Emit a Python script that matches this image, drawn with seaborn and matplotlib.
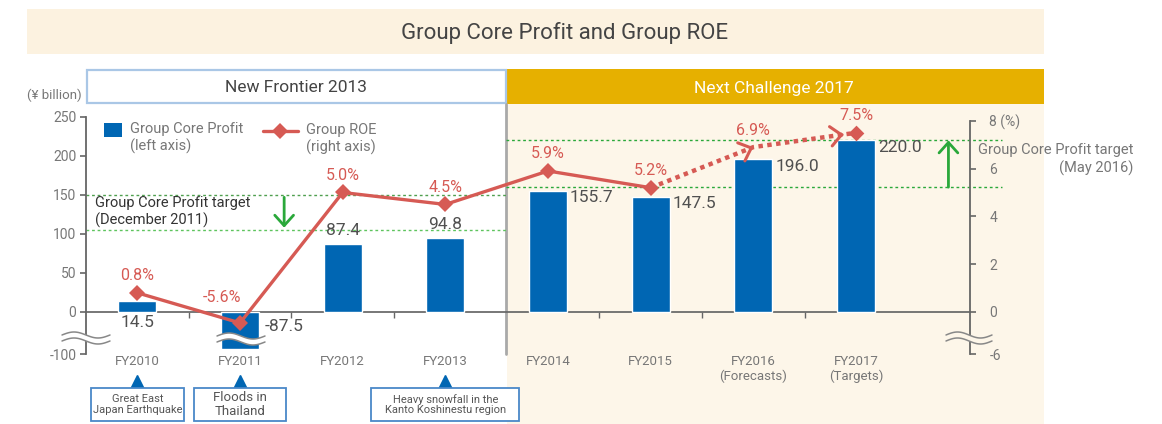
import numpy as np
import pandas as pd
import seaborn as sns
import matplotlib.pyplot as plt
import matplotlib.transforms as mtransforms
from matplotlib.patches import Rectangle, Polygon
from matplotlib.lines import Line2D

# chart data
years = ["FY2010", "FY2011", "FY2012", "FY2013", "FY2014", "FY2015", "FY2016", "FY2017"]
tick_labels = ["FY2010", "FY2011", "FY2012", "FY2013", "FY2014", "FY2015",
               "FY2016\n(Forecasts)", "FY2017\n(Targets)"]
core_profit = [14.5, -87.5, 87.4, 94.8, 155.7, 147.5, 196.0, 220.0]
roe = [0.8, -5.6, 5.0, 4.5, 5.9, 5.2, 6.9, 7.5]
target_2011 = [150, 105]
target_2016 = [220, 160]
event_years = [0, 1, 3]
event_texts = ["Great East\nJapan Earthquake", "Floods in\nThailand",
               "Heavy snowfall in the\nKanto Koshinestu region"]

df = pd.DataFrame({"year": years, "profit": core_profit, "roe": roe})
df["pos"] = np.arange(len(df))

blue = "#0066b3"
red = "#d65a54"
green = "#2aa83a"
grey = "#777777"
dark = "#505050"

sns.set_theme(style="white")
plt.rcParams["font.family"] = ["Roboto", "DejaVu Sans"]

W, H = 1162, 424
fig = plt.figure(figsize=(W / 100, H / 100), dpi=100)

def fx(x):
    return np.asarray(x) / W

def fy(y):
    return 1 - np.asarray(y) / H

# background panels
fig.add_artist(Rectangle((fx(27), fy(54)), (1044 - 27) / W, 45 / H, fc="#fcf2e0", ec="none",
                         transform=fig.transFigure, zorder=-5))
fig.add_artist(Rectangle((fx(507), fy(424)), (1044 - 507) / W, (424 - 104) / H, fc="#fdf6e9", ec="none",
                         transform=fig.transFigure, zorder=-5))
fig.add_artist(Rectangle((fx(507), fy(104)), (1044 - 507) / W, 35 / H, fc="#e6b000", ec="none",
                         transform=fig.transFigure, zorder=-5))
fig.add_artist(Rectangle((fx(87), fy(103)), (506 - 87) / W, 33 / H, fc="white", ec="#aac7e6", lw=1.6,
                         transform=fig.transFigure, zorder=-4))
fig.text(fx(565), fy(33), "Group Core Profit and Group ROE", ha="center", va="center", fontsize=16, color="#444444")
fig.text(fx(296), fy(88), "New Frontier 2013", ha="center", va="center", fontsize=12.5, color="#444444")
fig.text(fx(774), fy(88), "Next Challenge 2017", ha="center", va="center", fontsize=12.5, color="white")

ax = fig.add_axes([86 / W, 1 - 354 / H, (970 - 86) / W, (354 - 117) / H])
ax.patch.set_alpha(0)

# broken axis below zero
def left_fwd(v):
    v = np.asarray(v, dtype=float)
    return np.where(v < 0, v * 0.54, v)

def left_inv(v):
    v = np.asarray(v, dtype=float)
    return np.where(v < 0, v / 0.54, v)

r_knots = np.array([-60.0, -6.0, -5.6, 0.0, 100.0])
r_mapped = np.array([-55.76, -1.76, -0.46, 0.0, 100.0])

ax.set_yscale("function", functions=(left_fwd, left_inv))

sns.barplot(data=df, x="pos", y="profit", native_scale=True, width=0.37, color=blue,
            saturation=1, ax=ax, zorder=3)

ax2 = ax.twinx()
ax2.set_yscale("function", functions=(lambda v: np.interp(v, r_knots, r_mapped),
                                      lambda v: np.interp(v, r_mapped, r_knots)))

# ROE: actual results solid, plan dotted
sns.lineplot(x=df["pos"][:6], y=df["roe"][:6], color=red, lw=2.4, marker="D", markersize=8,
             markeredgewidth=0, ax=ax2, zorder=5)
sns.lineplot(x=df["pos"][5:], y=df["roe"][5:], color=red, lw=3.2, linestyle=(0, (1, 1)), ax=ax2, zorder=5)
sns.scatterplot(x=df["pos"][7:], y=df["roe"][7:], color=red, marker="D", s=64, linewidth=0, ax=ax2, zorder=6)
for i in (6, 7):
    x0, y0, x1, y1 = df["pos"][i - 1], roe[i - 1], df["pos"][i], roe[i]
    back = 0.0 if i == 6 else 0.12
    tip = (x1 - back * (x1 - x0), y1 - back * (y1 - y0))
    ax2.annotate("", xy=tip, xytext=(tip[0] - 0.02 * (x1 - x0), tip[1] - 0.02 * (y1 - y0)),
                 arrowprops=dict(arrowstyle="->,head_length=0.55,head_width=0.5", color=red, lw=2.2,
                                 shrinkA=0, shrinkB=0, mutation_scale=14), zorder=6)

# ROE labels
for p, r in zip(df["pos"], roe):
    off = (-18, 25) if r < 0 else (0, 17)
    ax2.annotate(f"{r:.1f}%", xy=(p, r), xytext=off, textcoords="offset pixels",
                 ha="center", va="center", fontsize=11.5, color=red)

# profit labels
for p, v in zip(df["pos"], core_profit):
    if p == 0:
        xy, off, ha = (p, 0), (0, -11), "center"
    elif v < 0:
        xy, off, ha = (p + 0.185, 0), (6, -15), "left"
    elif p < 4:
        xy, off, ha = (p, v), (0, 13), "center"
    else:
        xy, off, ha = (p + 0.185, v), (3, -7), "left"
    ax.annotate(f"{v:.1f}", xy=xy, xytext=off, textcoords="offset pixels", ha=ha, va="center",
                fontsize=12.5, color=dark, zorder=6)

split = 3.59
ax.set_xlim(-0.5, 8.11)
ax.set_ylim(-100, 250)
ax2.set_ylim(-6, 8.16)

# target lines and arrows
ax.hlines(target_2011, -0.5, split, colors=["#4f9f4f", "#5ec45e"], linestyles=(0, (2, 2)), lw=1, zorder=2)
ax.hlines(target_2016, split, 8.42, colors=green, linestyles=(0, (2, 2)), lw=1, zorder=2, clip_on=False)
ax.annotate("", xy=(1.43, target_2011[1] + 3), xytext=(1.43, target_2011[0] - 3),
            arrowprops=dict(arrowstyle="->,head_length=0.5,head_width=0.45", color=green, lw=2,
                            shrinkA=0, shrinkB=0, mutation_scale=15))
ax.annotate("", xy=(7.9, target_2016[0]), xytext=(7.9, target_2016[1]),
            arrowprops=dict(arrowstyle="->,head_length=0.5,head_width=0.45", color=green, lw=2,
                            shrinkA=0, shrinkB=0, mutation_scale=15), annotation_clip=False)
ax.text(-0.41, 128, "Group Core Profit target\n(December 2011)", ha="left", va="center",
        fontsize=10.5, color="#333333", zorder=6)
fig.text(fx(1133), fy(150), "Group Core Profit target", ha="right", va="center", fontsize=10.5, color=grey)
fig.text(fx(1133), fy(168), "(May 2016)", ha="right", va="center", fontsize=10.5, color=grey)

# divider between the two plans
blend = mtransforms.blended_transform_factory(ax.transData, fig.transFigure)
ax.add_line(Line2D([split, split], [fy(354), fy(104)], color="#a9a9a9", lw=2, transform=blend,
                   clip_on=False, zorder=1))

# axes styling
for s in ["top", "right"]:
    ax.spines[s].set_visible(False)
for s in ["top", "left", "bottom"]:
    ax2.spines[s].set_visible(False)
ax.spines["bottom"].set_position(("data", 0))
ax.spines["bottom"].set_color("#666666")
ax.spines["left"].set_color("#666666")
ax.spines["left"].set_linewidth(1.3)
ax2.spines["right"].set_color("#666666")
ax2.spines["right"].set_linewidth(1.3)
ax2.spines["right"].set_bounds(-6, 8)

ax.set_yticks([-100, 0, 50, 100, 150, 200, 250], ["-100", "0", "50", "100", "150", "200", "250"])
ax.tick_params(axis="y", direction="out", length=4, width=1.2, color="#666666", labelcolor=grey,
               labelsize=10, pad=3, left=True)
ax2.set_yticks([-6, 0, 2, 4, 6, 8], ["-6", "0", "2", "4", "6", "8 (%)"])
ax2.tick_params(axis="y", direction="out", length=4, width=1.2, color="#666666", labelcolor=grey,
                labelsize=10, pad=10, right=True)
ax.set_xticks(df["pos"], tick_labels)
ax.set_xticks([0.5, 1.5, 2.5, 4.5, 5.5, 6.5], minor=True)
ax.tick_params(axis="x", which="major", length=0, pad=31, labelsize=9.5, labelcolor=grey)
ax.tick_params(axis="x", which="minor", bottom=True, length=4, width=1, color="#666666", direction="out")
ax.set_xlabel("")
ax.set_ylabel("")
ax2.set_ylabel("")
fig.text(fx(82), fy(95), "(¥ billion)", ha="right", va="center", fontsize=9.5, color=grey)

# legend
fig.add_artist(Rectangle((fx(104), fy(137)), 18 / W, 14 / H, fc=blue, ec="none", transform=fig.transFigure))
fig.text(fx(130), fy(138), "Group Core Profit\n(left axis)", ha="left", va="center", fontsize=10.5, color=grey)
fig.add_artist(Line2D(fx([263, 298]), fy([131, 131]), color=red, lw=2.4, transform=fig.transFigure))
fig.add_artist(Line2D(fx([280]), fy([131]), marker="D", ms=8, mew=0, color=red, transform=fig.transFigure))
fig.text(fx(306), fy(139), "Group ROE\n(right axis)", ha="left", va="center", fontsize=10.5, color=grey)

# axis break marks
def draw_break(cx, cy, fill, half=24):
    t = np.linspace(0, 1, 50)
    xs = cx - half + 2 * half * t
    wave = 3 * np.sin(2 * np.pi * t)
    top = cy - 3 - wave
    bot = cy + 3 - wave
    pts = np.column_stack([fx(np.r_[xs, xs[::-1]]), fy(np.r_[top, bot[::-1]])])
    fig.add_artist(Polygon(pts, closed=True, fc=fill, ec="none", transform=fig.transFigure, zorder=10))
    for yy in (top, bot):
        fig.add_artist(Line2D(fx(xs), fy(yy), color="#888888", lw=1.1, transform=fig.transFigure, zorder=11))

draw_break(86, 338, "white")
draw_break(241, 339, "white")
draw_break(969, 338, "#fdf6e9", half=23)

# event boxes under the axis
box_w = [0.9, 0.89, 1.44]
for idx, txt, bw in zip(event_years, event_texts, box_w):
    ax.plot([idx], [fy(383)], marker="^", ms=11, color=blue, transform=blend, clip_on=False)
    ax.add_patch(Rectangle((idx - bw / 2, fy(421)), bw, 33 / H, fc="white", ec="#4a88c8", lw=1.3,
                           transform=blend, clip_on=False, zorder=4))
    size = 9.5 if idx == 1 else 8
    ax.text(idx, fy(404.5), txt, ha="center", va="center", fontsize=size, color="#555555",
            linespacing=1.05, transform=blend, zorder=5)

fig.savefig("out.png", dpi=100)
